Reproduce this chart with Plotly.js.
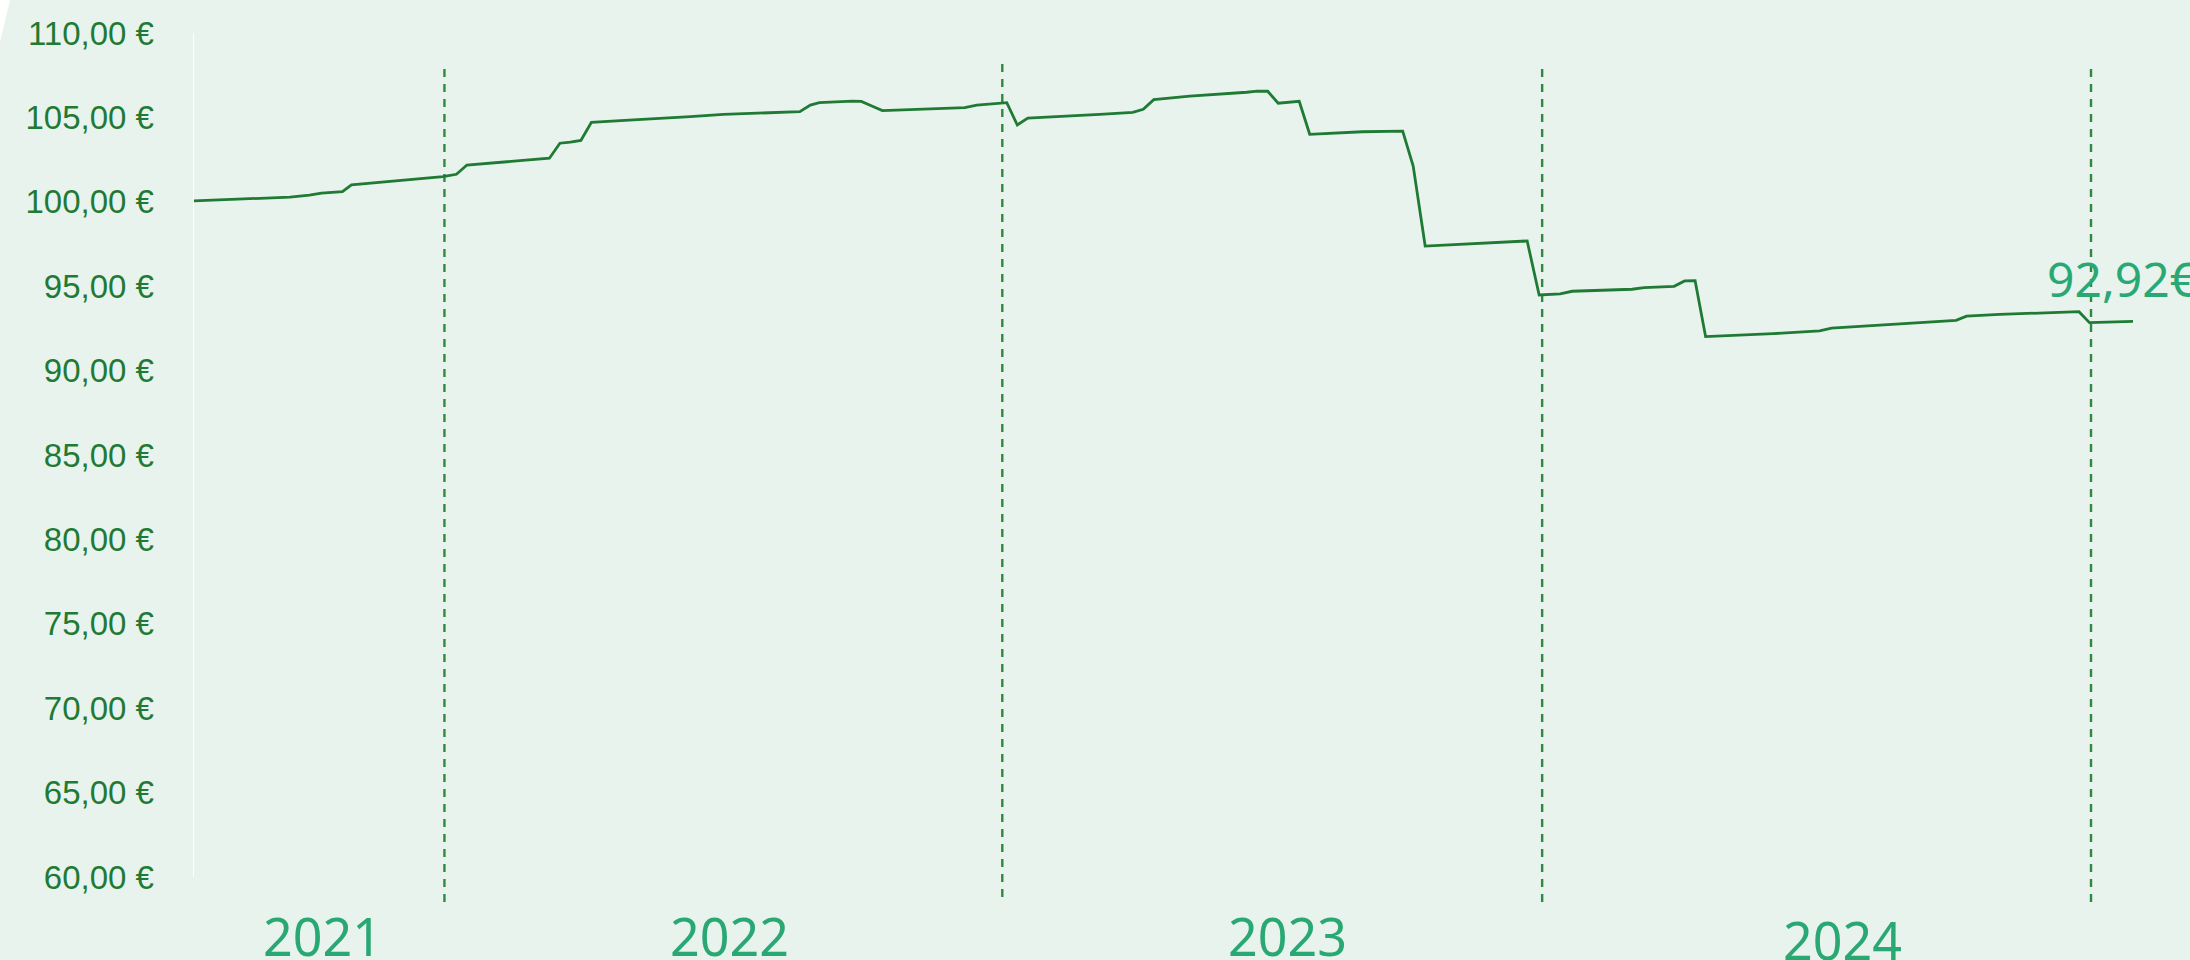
<!DOCTYPE html>
<html>
<head>
<meta charset="utf-8">
<script src="https://cdn.plot.ly/plotly-3.0.1.min.js"></script>
<style>
html, body { margin: 0; padding: 0; background: #e8f3ee; }
#chart { width: 2190px; height: 960px; }
</style>
</head>
<body>
<div id="chart"></div>
<script>
// ---- data ----
const dates = [
  '2021-07-16','2021-09-18','2021-10-01','2021-10-09','2021-10-23','2021-10-29',
  '2021-12-29','2022-01-07','2022-01-14','2022-03-10','2022-03-17','2022-03-24',
  '2022-03-31','2022-04-07','2022-05-05','2022-06-12','2022-07-04','2022-08-24',
  '2022-08-31','2022-09-06','2022-09-28','2022-10-04','2022-10-11','2022-10-18',
  '2022-12-12','2022-12-20','2023-01-09','2023-01-16','2023-01-23','2023-03-12',
  '2023-04-03','2023-04-10','2023-04-17','2023-05-11','2023-06-18','2023-06-25',
  '2023-07-02','2023-07-09','2023-07-23','2023-07-30','2023-09-03','2023-09-30',
  '2023-10-07','2023-10-15','2023-12-22','2023-12-30','2024-01-13','2024-01-21',
  '2024-03-01','2024-03-09','2024-03-29','2024-04-05','2024-04-12','2024-04-19',
  '2024-06-03','2024-07-04','2024-07-12','2024-10-03','2024-10-10','2024-11-01',
  '2024-12-24','2024-12-31','2025-01-29'
];
const prices = [
  100.05, 100.28, 100.40, 100.52, 100.60, 101.00,
  101.49, 101.63, 102.18, 102.58, 103.47, 103.53,
  103.64, 104.71, 104.85, 105.05, 105.18, 105.34,
  105.73, 105.87, 105.97, 105.95, 105.68, 105.40,
  105.58, 105.73, 105.87, 104.55, 104.96, 105.18,
  105.30, 105.48, 106.05, 106.26, 106.49, 106.56,
  106.55, 105.84, 105.95, 104.00, 104.15, 104.19,
  102.12, 97.38, 97.68, 94.48, 94.54, 94.70,
  94.82, 94.91, 94.99, 95.31, 95.33, 92.01,
  92.19, 92.35, 92.52, 92.98, 93.23, 93.33,
  93.49, 92.84, 92.92
];
const yearLabels = ['2021', '2022', '2023', '2024'];
const yearBoundaries = ['2021-12-30', '2023-01-06', '2024-01-01', '2025-01-01'];
const yTickValues = [60, 65, 70, 75, 80, 85, 90, 95, 100, 105, 110];

// ---- styling ----
const BG = '#e8f3ee';
const LINE_GREEN = '#1f7a33';
const LABEL_GREEN = '#2aa874';

function euro(v, sep) { return v.toFixed(2).replace('.', ',') + sep + '€'; }

const trace = {
  type: 'scatter',
  mode: 'lines',
  x: dates,
  y: prices,
  line: { color: LINE_GREEN, width: 2.8, shape: 'linear', simplify: false },
  hoverinfo: 'skip',
  showlegend: false
};

// vertical dashed year boundary lines
const dashExtents = [[-0.0296, 0.9597], [-0.0237, 0.9656], [-0.0296, 0.9597], [-0.0296, 0.9597]];
const shapes = yearBoundaries.map((d, i) => ({
  type: 'line', xref: 'x', yref: 'paper',
  x0: d, x1: d, y0: dashExtents[i][0], y1: dashExtents[i][1],
  line: { color: '#2f8a40', width: 2.4, dash: '8px,7px' },
  layer: 'below'
}));
// small white corner at the top-left
shapes.push({
  type: 'path', xref: 'paper', yref: 'paper',
  path: 'M -0.1001 1.0391 L -0.0949 1.0391 L -0.1001 0.9882 Z',
  fillcolor: '#ffffff', line: { width: 0 }
});

// year labels below the plot
const yearLabelX = ['2021-10-10', '2022-07-08', '2023-07-15', '2024-07-19'];
const yearLabelY = [-0.0699, -0.0699, -0.0699, -0.0746];
const annotations = yearLabels.map((t, i) => ({
  text: t, xref: 'x', yref: 'paper', x: yearLabelX[i], y: yearLabelY[i],
  xanchor: 'center', yanchor: 'middle', showarrow: false,
  font: { family: 'Noto Sans, Open Sans, sans-serif', size: 52, color: LABEL_GREEN }
}));
// last value label
const lastVal = prices[prices.length - 1];
annotations.push({
  text: euro(lastVal, ''),
  xref: 'x', yref: 'y', x: dates[dates.length - 1], y: lastVal,
  xanchor: 'center', yanchor: 'middle', xshift: -11, yshift: 43,
  showarrow: false,
  font: { family: 'Noto Sans, Open Sans, sans-serif', size: 48, color: LABEL_GREEN }
});

const layout = {
  width: 2190, height: 960,
  margin: { l: 194, r: 57, t: 33, b: 83, pad: 0 },
  paper_bgcolor: BG, plot_bgcolor: BG,
  showlegend: false,
  xaxis: {
    type: 'date',
    range: [dates[0], dates[dates.length - 1]],
    showgrid: false, zeroline: false, showline: false,
    showticklabels: false, ticks: ''
  },
  yaxis: {
    range: [60, 110],
    tickmode: 'array',
    tickvals: yTickValues,
    ticktext: yTickValues.map(v => euro(v, ' ')),
    showgrid: false, zeroline: false,
    showline: true, linecolor: '#ffffff', linewidth: 1.5,
    ticks: '',
    ticklabelstandoff: 32,
    tickfont: { family: 'Liberation Sans, Arial, sans-serif', size: 33, color: LINE_GREEN }
  },
  shapes: shapes,
  annotations: annotations
};

Plotly.newPlot('chart', [trace], layout, { staticPlot: true, displayModeBar: false });
</script>
</body>
</html>
